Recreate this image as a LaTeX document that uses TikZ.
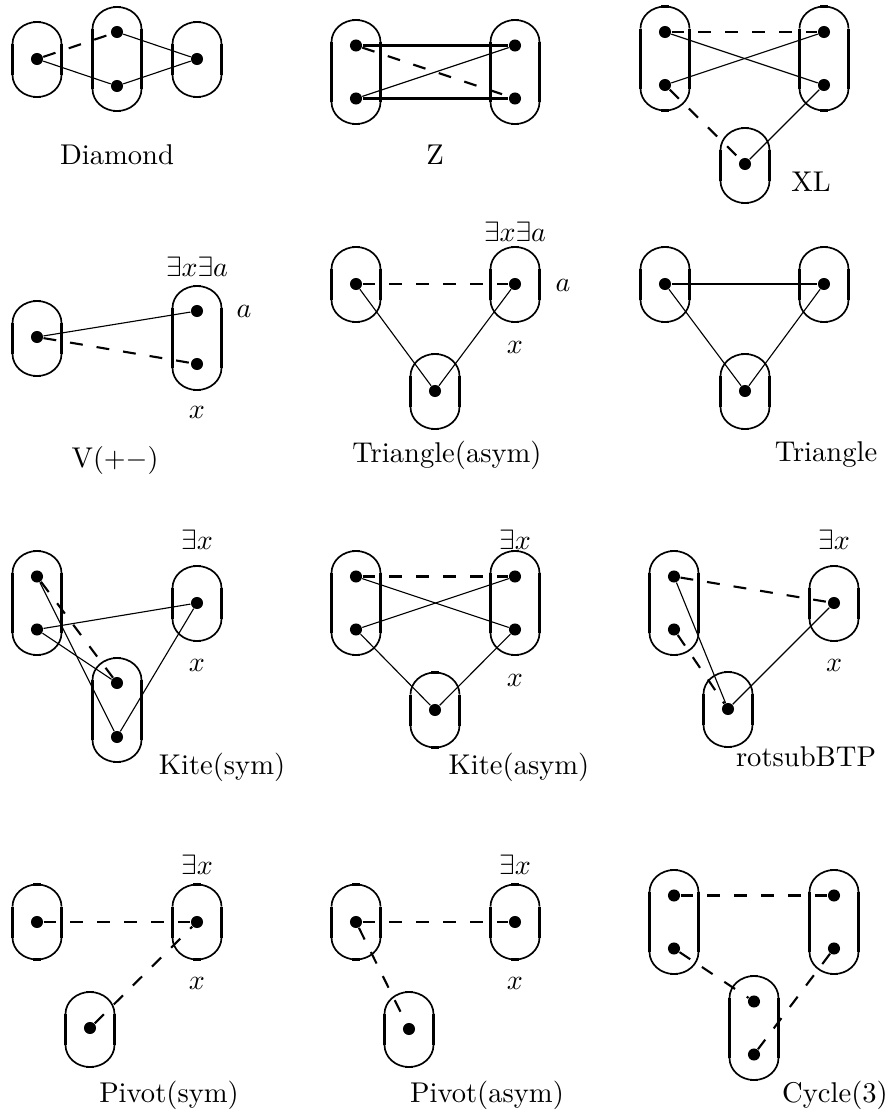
\documentclass[tikz,border=0pt]{standalone}
\usepackage{amssymb}
\begin{document}
\begin{tikzpicture}[x=0.357pt,y=-0.357pt,
  ovalarc/.style={line width=0.6pt},
  ovalside/.style={line width=1.05pt},
  dot/.style={circle,fill=black,inner sep=0pt,minimum size=4.3pt},
  thinedge/.style={line width=0.4pt},
  thickedge/.style={line width=0.85pt},
  dashedge/.style={line width=0.75pt,dash pattern=on 4.6pt off 5pt},
  lbl/.style={inner sep=0pt,font=\fontsize{10.2}{12}\selectfont}]
\useasboundingbox (0,0) rectangle (888,1116);
% oval: #1 name, #2 cx, #3 cy, #4 half straight length
\newcommand\ovl[4]{%
  \coordinate (#1) at (#2,#3);
  \draw[ovalarc] (#2-24.5,#3-#4) arc[start angle=180,end angle=360,x radius=24.5,y radius=22];
  \draw[ovalarc] (#2+24.5,#3+#4) arc[start angle=0,end angle=180,x radius=24.5,y radius=22];
  \draw[ovalside] (#2-24.5,#3-#4) -- (#2-24.5,#3+#4);
  \draw[ovalside] (#2+24.5,#3-#4) -- (#2+24.5,#3+#4);
  \draw[ovalside] (#2-4,#3-#4-22) -- (#2+4,#3-#4-22);
  \draw[ovalside] (#2-4,#3+#4+22) -- (#2+4,#3+#4+22);}
\newcommand\dt[3]{\node[dot] (#1) at (#2,#3) {};}
\def\hs{15.5}
\def\hd{30}
% ---------- Panel 1: Diamond
\ovl{o1a}{37}{59.5}{\hs}\ovl{o1b}{117}{59}{\hd}\ovl{o1c}{197}{59.5}{\hs}
\dt{p1a}{37}{59}\dt{p1b1}{117}{32}\dt{p1b2}{117}{86}\dt{p1c}{197}{59}
\draw[dashedge] (p1a) -- (p1b1);
\draw[thinedge] (p1a) -- (p1b2);
\draw[thinedge] (p1b1) -- (p1c);
\draw[thinedge] (p1b2) -- (p1c);
\node[lbl] (t1) at (117,155) {Diamond};
% ---------- Panel 2: Z
\ovl{o2a}{356}{72}{\hd}\ovl{o2b}{515}{72}{\hd}
\dt{p2a1}{356}{45.5}\dt{p2a2}{356}{98.5}\dt{p2b1}{515}{45.5}\dt{p2b2}{515}{98.5}
\draw[thickedge] (p2a1) -- (p2b1);
\draw[thickedge] (p2a2) -- (p2b2);
\draw[thinedge] (p2a2) -- (p2b1);
\draw[dashedge] (p2a1) -- (p2b2);
\node[lbl] (t2) at (435,155) {Z};
% ---------- Panel 3: XL
\ovl{o3a}{665}{58.5}{\hd}\ovl{o3b}{824}{58.5}{\hd}\ovl{o3c}{745}{165.5}{\hs}
\dt{p3a1}{665}{32}\dt{p3a2}{665}{85}\dt{p3b1}{824}{32}\dt{p3b2}{824}{85}\dt{p3c}{745}{164}
\draw[dashedge] (p3a1) -- (p3b1);
\draw[thinedge] (p3a1) -- (p3b2);
\draw[thinedge] (p3a2) -- (p3b1);
\draw[dashedge] (p3a2) -- (p3c);
\draw[thinedge] (p3b2) -- (p3c);
\node[lbl] (t3) at (811,182) {XL};
% ---------- Panel 4: V(+-)
\ovl{o4a}{37}{338.5}{\hs}\ovl{o4b}{197}{338}{\hd}
\dt{p4a}{37}{337}\dt{p4b1}{197}{311}\dt{p4b2}{197}{364}
\draw[thinedge] (p4a) -- (p4b1);
\draw[dashedge] (p4a) -- (p4b2);
\node[lbl] (e4) at (197,267) {$\exists x\exists a$};
\node[lbl] (a4) at (244,311) {$a$};
\node[lbl] (x4) at (197,412) {$x$};
\node[lbl] (t4) at (115,460) {V$(+-)$};
% ---------- Panel 5: Triangle(asym)
\ovl{o5a}{356}{284.5}{\hs}\ovl{o5b}{515}{284.5}{\hs}\ovl{o5c}{435}{391.5}{\hs}
\dt{p5a}{356}{284}\dt{p5b}{515}{284}\dt{p5c}{435}{391}
\draw[dashedge] (p5a) -- (p5b);
\draw[thinedge] (p5a) -- (p5c);
\draw[thinedge] (p5b) -- (p5c);
\node[lbl] (e5) at (515,232) {$\exists x\exists a$};
\node[lbl] (a5) at (563,285) {$a$};
\node[lbl] (x5) at (515,347) {$x$};
\node[lbl] (t5) at (447,455) {Triangle(asym)};
% ---------- Panel 6: Triangle
\ovl{o6a}{665}{284.5}{\hs}\ovl{o6b}{824}{284.5}{\hs}\ovl{o6c}{745}{391.5}{\hs}
\dt{p6a}{665}{284}\dt{p6b}{824}{284}\dt{p6c}{745}{391}
\draw[thickedge] (p6a) -- (p6b);
\draw[thinedge] (p6a) -- (p6c);
\draw[thinedge] (p6b) -- (p6c);
\node[lbl] (t6) at (826,455) {Triangle};
% ---------- Panel 7: Kite(sym)
\ovl{o7a}{37}{603}{\hd}\ovl{o7b}{197}{603.5}{\hs}\ovl{o7c}{117}{710}{\hd}
\dt{p7a1}{37}{576.5}\dt{p7a2}{37}{629.5}\dt{p7b}{197}{603}\dt{p7c1}{117}{683}\dt{p7c2}{117}{737}
\draw[dashedge] (p7a1) -- (p7c1);
\draw[thinedge] (p7a1) -- (p7c2);
\draw[thinedge] (p7a2) -- (p7c1);
\draw[thinedge] (p7a2) -- (p7b);
\draw[thinedge] (p7b) -- (p7c2);
\node[lbl] (e7) at (197,540) {$\exists x$};
\node[lbl] (x7) at (197,665) {$x$};
\node[lbl] (t7) at (222,767) {Kite(sym)};
% ---------- Panel 8: Kite(asym)
\ovl{o8a}{356}{603}{\hd}\ovl{o8b}{515}{603}{\hd}\ovl{o8c}{435}{710}{\hs}
\dt{p8a1}{356}{576.5}\dt{p8a2}{356}{629.5}\dt{p8b1}{515}{576.5}\dt{p8b2}{515}{629.5}\dt{p8c}{435}{710}
\draw[dashedge] (p8a1) -- (p8b1);
\draw[thinedge] (p8a1) -- (p8b2);
\draw[thinedge] (p8a2) -- (p8b1);
\draw[thinedge] (p8a2) -- (p8c);
\draw[thinedge] (p8b2) -- (p8c);
\node[lbl] (e8) at (515,540) {$\exists x$};
\node[lbl] (x8) at (515,680) {$x$};
\node[lbl] (t8) at (519,767) {Kite(asym)};
% ---------- Panel 9: rotsubBTP
\ovl{o9a}{674}{603}{\hd}\ovl{o9b}{834}{603.5}{\hs}\ovl{o9c}{728}{709.5}{\hs}
\dt{p9a1}{674}{576.5}\dt{p9a2}{674}{629.5}\dt{p9b}{834}{603}\dt{p9c}{728}{709}
\draw[dashedge] (p9a1) -- (p9b);
\draw[thinedge] (p9a1) -- (p9c);
\draw[dashedge] (p9a2) -- (p9c);
\draw[thinedge] (p9b) -- (p9c);
\node[lbl] (e9) at (834,540) {$\exists x$};
\node[lbl] (x9) at (834,665) {$x$};
\node[lbl] (t9) at (806,757) {rotsubBTP};
% ---------- Panel 10: Pivot(sym)
\ovl{o10a}{37}{922}{\hs}\ovl{o10b}{197}{922}{\hs}\ovl{o10c}{90}{1029.5}{\hs}
\dt{p10a}{37}{922}\dt{p10b}{197}{922}\dt{p10c}{90}{1028}
\draw[dashedge] (p10a) -- (p10b);
\draw[dashedge] (p10c) -- (p10b);
\node[lbl] (e10) at (197,865) {$\exists x$};
\node[lbl] (x10) at (197,983) {$x$};
\node[lbl] (t10) at (169,1095) {Pivot(sym)};
% ---------- Panel 11: Pivot(asym)
\ovl{o11a}{356}{922}{\hs}\ovl{o11b}{515}{922}{\hs}\ovl{o11c}{409}{1029.5}{\hs}
\dt{p11a}{356}{922}\dt{p11b}{515}{922}\dt{p11c}{409}{1029}
\draw[dashedge] (p11a) -- (p11b);
\draw[dashedge] (p11a) -- (p11c);
\node[lbl] (e11) at (515,865) {$\exists x$};
\node[lbl] (x11) at (515,983) {$x$};
\node[lbl] (t11) at (487,1095) {Pivot(asym)};
% ---------- Panel 12: Cycle(3)
\ovl{o12a}{674}{922}{\hd}\ovl{o12b}{834}{922}{\hd}\ovl{o12c}{754}{1028}{\hd}
\dt{p12a1}{674}{895.5}\dt{p12a2}{674}{948.5}\dt{p12b1}{834}{895.5}\dt{p12b2}{834}{948.5}
\dt{p12c1}{754}{1001.5}\dt{p12c2}{754}{1054.5}
\draw[dashedge] (p12a1) -- (p12b1);
\draw[dashedge] (p12a2) -- (p12c1);
\draw[dashedge] (p12b2) -- (p12c2);
\node[lbl] (t12) at (835,1095) {Cycle(3)};
\end{tikzpicture}
\end{document}
